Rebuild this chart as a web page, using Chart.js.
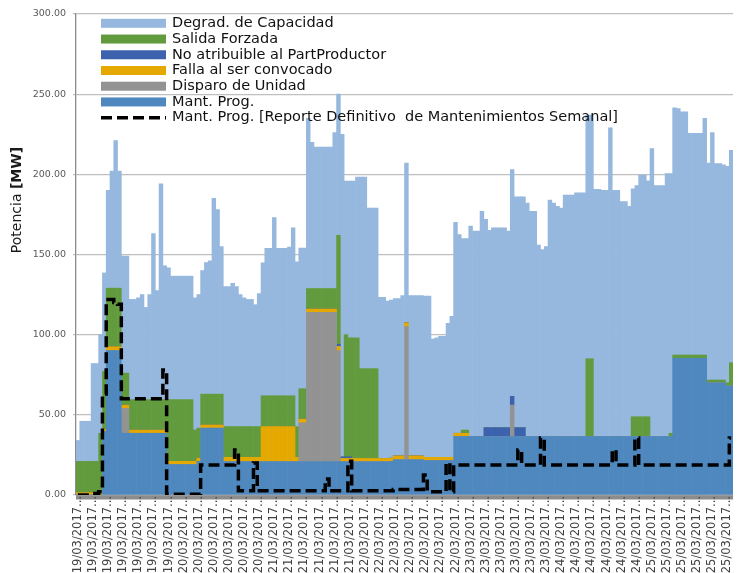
<!DOCTYPE html>
<html><head><meta charset="utf-8">
<script src="https://cdn.jsdelivr.net/npm/chart.js@4/dist/chart.umd.min.js"></script>
<style>html,body{margin:0;padding:0;background:#fff}</style>
</head><body>
<canvas id="c" width="746" height="573"></canvas>
<script>
// Tick labels (one every 4 categories)
const tickDates = [
 '19/03/2017','19/03/2017','19/03/2017','19/03/2017','19/03/2017','19/03/2017','19/03/2017',
 '20/03/2017','20/03/2017','20/03/2017','20/03/2017','20/03/2017','20/03/2017',
 '21/03/2017','21/03/2017','21/03/2017','21/03/2017','21/03/2017','21/03/2017',
 '22/03/2017','22/03/2017','22/03/2017','22/03/2017','22/03/2017','22/03/2017','22/03/2017',
 '23/03/2017','23/03/2017','23/03/2017','23/03/2017','23/03/2017','23/03/2017',
 '24/03/2017','24/03/2017','24/03/2017','24/03/2017','24/03/2017','24/03/2017',
 '25/03/2017','25/03/2017','25/03/2017','25/03/2017','25/03/2017','25/03/2017'
];
const seriesNames = ['Mant. Prog.','Disparo de Unidad','Falla al ser convocado','No atribuible al PartProductor','Salida Forzada','Degrad. de Capacidad','Mant. Prog. [Reporte Definitivo  de Mantenimientos Semanal]'];

const mantProg = [
 0,0,0,0,0,0,0,39.6,90,90,
 90,90,38.5,38.5,38.5,38.5,38.5,38.5,38.5,38.5,
 38.5,38.5,38.5,38.5,19,19,19,19,19,19,
 19,19,21,41.7,41.7,41.7,41.7,41.7,41.7,20.8,
 20.8,20.8,20.8,20.8,20.8,20.8,20.8,20.8,20.8,20.8,
 20.8,20.8,20.8,20.8,20.8,20.8,20.8,20.8,20.8,20.8,
 20.8,20.8,20.8,20.8,20.8,20.8,20.8,20.8,20.8,20.8,
 20.8,20.8,20.8,20.8,20.8,20.8,20.8,20.8,20.8,20.8,
 20.8,20.8,20.8,21,22,22,22,22,22,22,
 22,22,21.5,21.5,21.5,21.5,21.5,21.5,21.5,21.5,
 36.5,36.5,36.5,36.5,36.5,36.5,36.5,36.5,36.5,36.5,
 36.5,36.5,36.5,36.5,36.5,36.5,36.5,36.5,36.5,36.5,
 36.5,36.5,36.5,36.5,36.5,36.5,36.5,36.5,36.5,36.5,
 36.5,36.5,36.5,36.5,36.5,36.5,36.5,36.5,36.5,36.5,
 36.5,36.5,36.5,36.5,36.5,36.5,36.5,36.5,36.5,36.5,
 36.5,36.5,36.5,36.5,36.5,36.5,36.5,36.5,85.2,85.2,
 85.2,85.2,85.2,85.2,85.2,85.2,85.2,70,70,70,
 70,70,68,68
];
const disparo = [
 0,0,0,0,0,0,0,0,0,0,
 0,0,15.5,15.5,0,0,0,0,0,0,
 0,0,0,0,0,0,0,0,0,0,
 0,0,0,0,0,0,0,0,0,0,
 0,0,0,0,0,0,0,0,0,0,
 0,0,0,0,0,0,0,0,0,24.2,
 24.2,93.2,93.2,93.2,93.2,93.2,93.2,93.2,93.2,69.2,
 0,0,0,0,0,0,0,0,0,0,
 0,0,0,0,0,0,0,83,0,0,
 0,0,0,0,0,0,0,0,0,0,
 0,0,0,0,0,0,0,0,0,0,
 0,0,0,0,0,19.5,0,0,0,0,
 0,0,0,0,0,0,0,0,0,0,
 0,0,0,0,0,0,0,0,0,0,
 0,0,0,0,0,0,0,0,0,0,
 0,0,0,0,0,0,0,0,0,0,
 0,0,0,0,0,0,0,0,0,0,
 0,0,0,0
];
const falla = [
 1.5,1.5,1.5,1.5,1.5,1.5,1.5,1.5,2.5,2.5,
 2.5,2.5,2,2,2,2,2,2,2,2,
 2,2,2,2,2,2,2,2,2,2,
 2,2,2,2,2,2,2,2,2,2.7,
 2.7,2.7,2.7,2.7,2.7,2.7,2.7,2.7,2.7,21.9,
 21.9,21.9,21.9,21.9,21.9,21.9,21.9,21.9,2.7,2.3,
 2.3,2,2,2,2,2,2,2,2,2.7,
 2,2,2,2,2,2,2,2,2,2,
 2,2,2,2,2.4,2.4,2.4,2.4,2.4,2.4,
 2.4,2.4,2,2,2,2,2,2,2,2,
 2,2,2,2,0,0,0,0,0,0,
 0,0,0,0,0,0,0,0,0,0,
 0,0,0,0,0,0,0,0,0,0,
 0,0,0,0,0,0,0,0,0,0,
 0,0,0,0,0,0,0,0,0,0,
 0,0,0,0,0,0,0,0,0,0,
 0,0,0,0,0,0,0,0,0,0,
 0,0,0,0
];
const noAtrib = [
 0,0,0,0,0,0,0,0,0,0,
 0,0,0,0,0,0,0,0,0,0,
 0,0,0,0,0,0,0,0,0,0,
 0,0,0,0,0,0,0,0,0,0,
 0,0,0,0,0,0,0,0,0,0,
 0,0,0,0,0,0,0,0,0,0,
 0,0,0,0,0,0,0,0,0,1.3,
 1,1,1,0,0,0,0,0,0,0,
 0,0,0,0,0,0,0,0,0,0,
 0,0,0,0,0,0,0,0,0,0,
 0,0,0,0,0,0,0,0,5.5,5.5,
 5.5,5.5,5.5,5.5,5.5,5.5,5.5,5.5,5.5,0,
 0,0,0,0,0,0,0,0,0,0,
 0,0,0,0,0,0,0,0,0,0,
 0,0,0,0,0,0,0,0,0,0,
 0,0,0,0,0,0,0,0,0,0,
 0,0,0,0,0,0,0,0,0,0,
 0,0,0,0
];
const salida = [
 19.5,19.5,19.5,19.5,19.5,19.5,37,36,36.5,36.5,
 36.5,36.5,20,20,19,19,19,19,19,19,
 19,19,19,19,38.5,38.5,38.5,38.5,38.5,38.5,
 38.5,19.6,18.7,19.2,19.2,19.2,19.2,19.2,19.2,19.2,
 19.2,19.2,19.2,19.2,19.2,19.2,19.2,19.2,19.2,19.2,
 19.2,19.2,19.2,19.2,19.2,19.2,19.2,19.2,19.2,19,
 19,12.8,12.8,12.8,12.8,12.8,12.8,12.8,12.8,68,
 0,76.2,74.2,75.2,75.2,56,56,56,56,56,
 0,0,0,0,0,0,0,0,0,0,
 0,0,0,0,0,0,0,0,0,0,
 0,0,2,2,0,0,0,0,0,0,
 0,0,0,0,0,0,0,0,0,0,
 0,0,0,0,0,0,0,0,0,0,
 0,0,0,0,0,48.5,48.5,0,0,0,
 0,0,0,0,0,0,0,12.3,12.3,12.3,
 12.3,12.3,0,0,0,0,0,2,2.1,2.1,
 2.1,2.1,2.1,2.1,2.1,2.1,2.1,1.7,1.7,1.7,
 1.7,1.7,2,14.5
];
const degrad = [
 13,25,25,25,61,61,61.5,61.4,61,73,
 92,73,73,73,62.5,62.5,63.5,65.5,57.5,65.5,
 103.5,68,134.5,83.5,82.2,77,77,77,77,77,
 77,82.4,83.3,77.1,82.1,83.1,122.1,115.1,92.1,87.3,
 87.3,89.3,87.3,82.3,80.3,79.3,79.3,76,82.9,82.9,
 91.9,91.9,111.1,91.9,91.9,91.9,92.7,104.8,102.7,87.7,
 87.7,106.2,91.2,88.2,88.2,88.2,88.2,88.2,97.2,88,
 201.2,95.8,97.8,97.8,100.3,119.5,119.5,100.2,100.2,100.2,
 100.5,100.5,98.2,98.5,98.1,98.1,100,99.6,100,100,
 100,100,100.5,100.5,73.8,74.5,75.5,75.5,83.5,88,
 131.5,124,119.5,119.5,131.2,128.1,128.1,140.5,130,123,
 124.7,124.7,124.7,124.7,122.6,141.5,144,144,144,145.5,
 140.5,140.5,119.3,116.5,118.5,147.5,145.5,143.5,142.5,150.5,
 150.5,150.5,152,152,152,152,152,154.1,154.1,153.5,
 153.5,192.5,153.5,153.5,146.5,146.5,143.5,142.2,144.2,150.7,
 150.7,147.2,179.5,156.5,156.5,156.5,164,162,154.2,153.7,
 151.7,151.7,138.2,138.2,138.2,138.2,147.7,135.3,154.3,135,
 135,134.3,135,132.5
];
const repDefinitivo = [
 0,0,0,0,0,1,2,63,122,122,
 120,119,60,60,60,60,60,60,60,60,
 60,60,60,78,0.5,0.5,0.5,0.5,0.5,0.5,
 0.5,0.5,0.5,18.75,18.75,18.75,18.75,18.75,18.75,18.75,
 18.75,18.75,28,2.7,2.7,2.7,2.7,20,2.7,2.7,
 2.7,2.7,2.7,2.7,2.7,2.7,2.7,2.7,2.7,2.7,
 2.7,2.7,2.7,2.7,2.7,2.7,10,2.7,2.7,2.7,
 2.7,2.7,21,2.7,2.7,2.7,2.7,2.7,2.7,2.7,
 2.7,2.7,2.7,2.7,3.4,3.4,3.4,3.4,3.4,3.4,
 3.4,3.4,12.5,2,2,2,2,2,20,2,
 18.75,18.75,18.75,18.75,18.75,18.75,18.75,18.75,18.75,18.75,
 18.75,18.75,18.75,18.75,18.75,18.75,18.75,28,18.75,18.75,
 18.75,18.75,18.75,35.5,18.75,18.75,18.75,18.75,18.75,18.75,
 18.75,18.75,18.75,18.75,18.75,18.75,18.75,18.75,18.75,18.75,
 18.75,18.75,28,18.75,18.75,18.75,18.75,18.75,35.5,18.75,
 18.75,18.75,18.75,18.75,18.75,18.75,18.75,18.75,18.75,18.75,
 18.75,18.75,18.75,18.75,18.75,18.75,18.75,18.75,18.75,18.75,
 18.75,18.75,18.75,35.5
];

const categories = mantProg.map((_, i) => (i % 4 === 0 ? tickDates[i / 4] : ''));

const colors = {
  mant: '#4f88be', disparo: '#939393', falla: '#e4a800',
  noAtrib: '#3c61ad', salida: '#629b3e', degrad: '#96b8de'
};

Chart.defaults.font.family = "'DejaVu Sans', sans-serif";
Chart.defaults.animation = false;

const bar = { type: 'bar', barPercentage: 1, categoryPercentage: 1, borderWidth: 0, order: 1, stack: 's' };

const bgPlugin = {
  id: 'bg',
  beforeDraw(chart) {
    const { ctx, chartArea: a } = chart;
    ctx.save();
    ctx.fillStyle = '#fff';
    ctx.fillRect(0, 0, chart.width, chart.height);
    ctx.fillStyle = '#8c8c8c';
    ctx.fillRect(a.left, a.bottom - 0.5, a.right - a.left, 5);
    ctx.restore();
  }
};

const overlayPlugin = {
  id: 'overlay',
  afterDraw(chart) {
    const { ctx } = chart;
    ctx.save();
    // Y axis title
    ctx.translate(17, 200);
    ctx.rotate(-Math.PI / 2);
    ctx.fillStyle = '#1a1a1a';
    ctx.textBaseline = 'middle';
    ctx.font = "14px 'DejaVu Sans'";
    const p1 = 'Potencia ';
    const w1 = ctx.measureText(p1).width;
    ctx.font = "bold 14px 'DejaVu Sans'";
    const p2 = '[MW]';
    const w2 = ctx.measureText(p2).width;
    const x0 = -(w1 + w2) / 2;
    ctx.font = "14px 'DejaVu Sans'";
    ctx.fillText(p1, x0, 0);
    ctx.font = "bold 14px 'DejaVu Sans'";
    ctx.fillText(p2, x0 + w1, 0);
    ctx.restore();

    // Legend (inside plot, top-left)
    ctx.save();
    const order = [5, 4, 3, 2, 1, 0, 6];
    const ds = chart.data.datasets;
    ctx.font = "14.5px 'DejaVu Sans'";
    ctx.textBaseline = 'middle';
    order.forEach((di, k) => {
      const cy = 23.3 + k * 15.73;
      const d = ds[di];
      if (d.type === 'line') {
        ctx.strokeStyle = '#000';
        ctx.lineWidth = 3.5;
        ctx.setLineDash([11, 5]);
        ctx.beginPath();
        ctx.moveTo(101, cy);
        ctx.lineTo(166, cy);
        ctx.stroke();
        ctx.setLineDash([]);
      } else {
        ctx.fillStyle = d.backgroundColor;
        ctx.fillRect(101, cy - 4.5, 65, 9);
      }
      ctx.fillStyle = '#111';
      ctx.fillText(d.label, 172, cy);
    });
    ctx.restore();
  }
};

new Chart(document.getElementById('c'), {
  data: {
    labels: categories,
    datasets: [
      { ...bar, label: seriesNames[0], data: mantProg, backgroundColor: colors.mant },
      { ...bar, label: seriesNames[1], data: disparo, backgroundColor: colors.disparo },
      { ...bar, label: seriesNames[2], data: falla, backgroundColor: colors.falla },
      { ...bar, label: seriesNames[3], data: noAtrib, backgroundColor: colors.noAtrib },
      { ...bar, label: seriesNames[4], data: salida, backgroundColor: colors.salida },
      { ...bar, label: seriesNames[5], data: degrad, backgroundColor: colors.degrad },
      { type: 'line', label: seriesNames[6], data: repDefinitivo, stack: 'line', order: 0,
        borderColor: '#000', borderWidth: 3.5, borderDash: [11, 5], pointRadius: 0,
        stepped: 'middle', fill: false }
    ]
  },
  options: {
    responsive: false,
    maintainAspectRatio: false,
    layout: { padding: { top: 14, right: 1, bottom: 0, left: 0 } },
    plugins: { legend: { display: false }, tooltip: { enabled: false } },
    scales: {
      x: {
        stacked: true,
        offset: true,
        grid: { display: false, drawTicks: false },
        border: { display: false },
        ticks: {
          autoSkip: false, maxRotation: 90, minRotation: 90, padding: 1,
          color: '#404040', font: { size: 11.5 },
          callback(v, i) { const l = categories[i]; return l ? l + '...' : ''; }
        },
        afterFit(s) { s.height = 78; }
      },
      y: {
        stacked: true, min: 0, max: 300,
        ticks: { stepSize: 50, padding: 7, color: '#595959', font: { size: 9.5 },
                 callback: v => Number(v).toFixed(2) },
        grid: { color: '#bfbfbf', lineWidth: 1.3, tickLength: 3, drawTicks: true },
        border: { display: true, color: '#8c8c8c', width: 1.3 },
        afterFit(s) { s.width = 76; }
      }
    }
  },
  plugins: [bgPlugin, overlayPlugin]
});
</script>
</body></html>
